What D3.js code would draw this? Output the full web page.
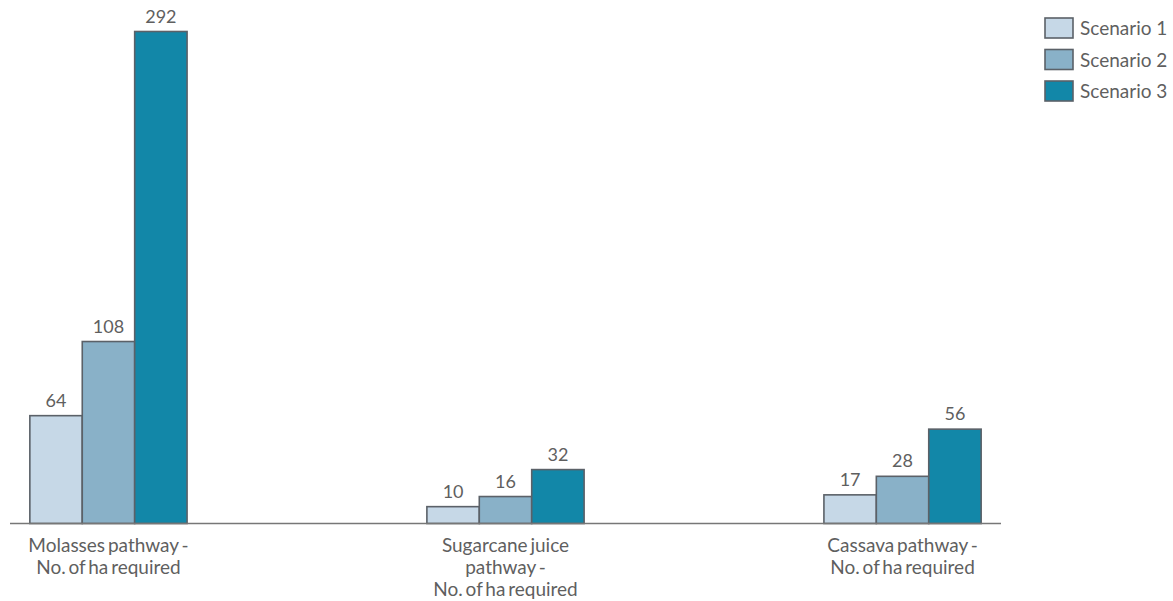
<!DOCTYPE html>
<html><head><meta charset="utf-8">
<script src="https://cdn.jsdelivr.net/npm/d3@7"></script>
<style>body{margin:0;background:#fff}svg{display:block}text{font-family:Lato,"Open Sans",sans-serif}</style>
</head><body><svg id="c" width="1173" height="601"></svg>
<script>
const categories = [["Molasses pathway -","No. of ha required"],["Sugarcane juice","pathway -","No. of ha required"],["Cassava pathway -","No. of ha required"]];
const seriesNames = ["Scenario 1","Scenario 2","Scenario 3"];
const scenario1 = [64, 10, 17];
const scenario2 = [108, 16, 28];
const scenario3 = [292, 32, 56];
const colors = ["#c6d8e7","#89b1c8","#1287a8"];

const series = [scenario1, scenario2, scenario3];
const svg = d3.select("#c");
const baseY = 523.5, topY = 31.5;
const x = d3.scaleBand().domain(d3.range(categories.length)).range([10, 1001]).paddingInner(0.604).paddingOuter(0.05);
const xs = d3.scaleBand().domain(d3.range(series.length)).range([0, x.bandwidth()]);
const y = d3.scaleLinear().domain([0, 292]).range([baseY, topY]);
const textCol = "#5f5f5f";

const g = svg.append("g");
series.forEach((s, si) => {
  g.selectAll(null).data(s).enter().append("rect")
    .attr("x", (d,i)=>x(i)+xs(si)).attr("width", xs.bandwidth())
    .attr("y", d=>y(d)).attr("height", d=>baseY-y(d))
    .attr("fill", colors[si]).attr("stroke", "#5b6168").attr("stroke-width", 1.6);
  g.selectAll(null).data(s).enter().append("text")
    .attr("x", (d,i)=>x(i)+xs(si)+xs.bandwidth()/2).attr("y", d=>y(d)-9)
    .attr("text-anchor","middle").attr("font-size",18).attr("fill",textCol).text(d=>d);
});
const axis = d3.axisBottom(x).tickSize(0).tickFormat("");
const ag = svg.append("g").attr("transform",`translate(0,${baseY})`).call(axis);
ag.select(".domain").attr("stroke","#777").attr("stroke-width",1.6).attr("d","M10,0H1001");
categories.forEach((lines,i)=>{
  const t = svg.append("text").attr("x", x(i)+x.bandwidth()/2).attr("y", baseY+28)
    .attr("text-anchor","middle").attr("font-size",19).attr("fill",textCol).attr("word-spacing",-2);
  lines.forEach((l,k)=>t.append("tspan").attr("x", x(i)+x.bandwidth()/2).attr("dy", k?22:0).text(l));
});
const lg = svg.append("g").attr("transform","translate(1045,18)");
seriesNames.forEach((n,i)=>{
  lg.append("rect").attr("x",0).attr("y",i*31.5).attr("width",28).attr("height",20)
    .attr("fill",colors[i]).attr("stroke","#5b6168").attr("stroke-width",1.6);
  lg.append("text").attr("x",35).attr("y",i*31.5+17).attr("font-size",19).attr("fill",textCol).text(n);
});
</script></body></html>
